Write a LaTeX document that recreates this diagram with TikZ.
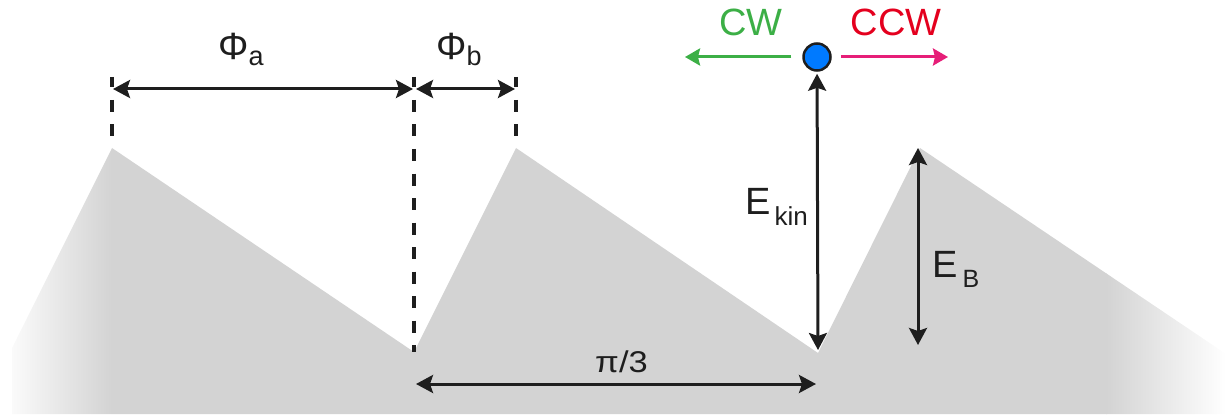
\documentclass[tikz,border=0pt]{standalone}
\usepackage{fontspec}
\setmainfont{Liberation Sans}
\usetikzlibrary{arrows.meta}
\definecolor{valley}{RGB}{211,211,211}
\definecolor{cwgreen}{RGB}{60,175,70}
\definecolor{ccwpink}{RGB}{230,30,120}
\definecolor{ccwred}{RGB}{228,0,30}
\definecolor{ballblue}{RGB}{0,122,255}
\definecolor{ink}{RGB}{30,30,30}
\begin{document}
\begin{tikzpicture}[x=1pt,y=-1pt,
  tipb/.tip={Stealth[length=17pt,width=18pt,inset=3pt]},
  dim/.style={draw=ink,line width=3pt,tipb-tipb},
  guide/.style={draw=ink,line width=3.2pt,dash pattern=on 12pt off 12.5pt,dash phase=1.5pt},
  rot/.style={line width=3pt,-{Stealth[length=15pt,width=17pt,inset=2pt]}},
  lbl/.style={inner sep=0pt,anchor=base west,text=ink,font=\fontsize{38}{42}\selectfont}]
\useasboundingbox (0,0) rectangle (1226,417);
% energy landscape
\begin{scope}
  \clip (12,414) -- (12,348) -- (112,148) -- (414,352) -- (516,148) -- (818,353) -- (920,148) -- (1226,354) -- (1226,414) -- cycle;
  \shade[left color=white,right color=valley] (0,140) rectangle (112,420);
  \fill[valley] (111.5,140) rectangle (1106.5,420);
  \shade[left color=valley,right color=white] (1106,140) rectangle (1226,420);
\end{scope}
% key points
\coordinate (pa) at (112,148);
\coordinate (va) at (414,352);
\coordinate (pb) at (516,148);
\coordinate (vb) at (818,350);
\coordinate (pc) at (918,148);
\coordinate (ga) at (112,77);
\coordinate (gb) at (414,77);
\coordinate (gc) at (516,77);
% guide lines
\draw[guide] (ga) -- (pa);
\draw[guide] (gb) -- (va);
\draw[guide] (gc) -- (pb);
% phi arrows
\coordinate (fa1) at (113,89);
\coordinate (fa2) at (413,89);
\coordinate (fb1) at (416,89);
\coordinate (fb2) at (515,89);
\draw[dim] (fa1) -- (fa2);
\draw[dim] (fb1) -- (fb2);
\node[lbl] (phia) at (218,60) {Φ\raisebox{-6pt}{\fontsize{27}{27}\selectfont a}};
\node[lbl] (phib) at (436,60) {Φ\raisebox{-6pt}{\fontsize{27}{27}\selectfont b}};
% pi/3
\coordinate (pl) at (416,384);
\coordinate (pr) at (816,384);
\draw[dim] (pl) -- (pr);
\node[lbl,font=\fontsize{30}{32}\selectfont] (pi3) at (595,372) {\scalebox{1.15}[1]{π/3}};
% ball and rotation
\node[circle,draw=ink,line width=2.5pt,fill=ballblue,minimum size=27pt,inner sep=0pt] (ball) at (817,57) {};
\coordinate (cwend) at (685,57);
\coordinate (ccwend) at (948,57);
\draw[rot,cwgreen,shorten <=11pt] (ball) -- (cwend);
\draw[rot,ccwpink,shorten <=9pt] (ball) -- (ccwend);
\node[lbl,anchor=base,text=cwgreen] (cw) at (751,36) {CW};
\node[lbl,anchor=base,text=ccwred] (ccw) at (896,36) {CCW};
% kinetic energy
\draw[dim,shorten <=2pt] (ball) -- (vb);
\node[lbl] (ekin) at (745,214) {E\hspace{4pt}\raisebox{-11pt}{\fontsize{26}{26}\selectfont kin}};
% barrier
\coordinate (eb2) at (918,345);
\draw[dim] (pc) -- (eb2);
\node[lbl] (eb) at (932,277) {E\hspace{5pt}\raisebox{-10pt}{\fontsize{25}{25}\selectfont B}};
\end{tikzpicture}
\end{document}
